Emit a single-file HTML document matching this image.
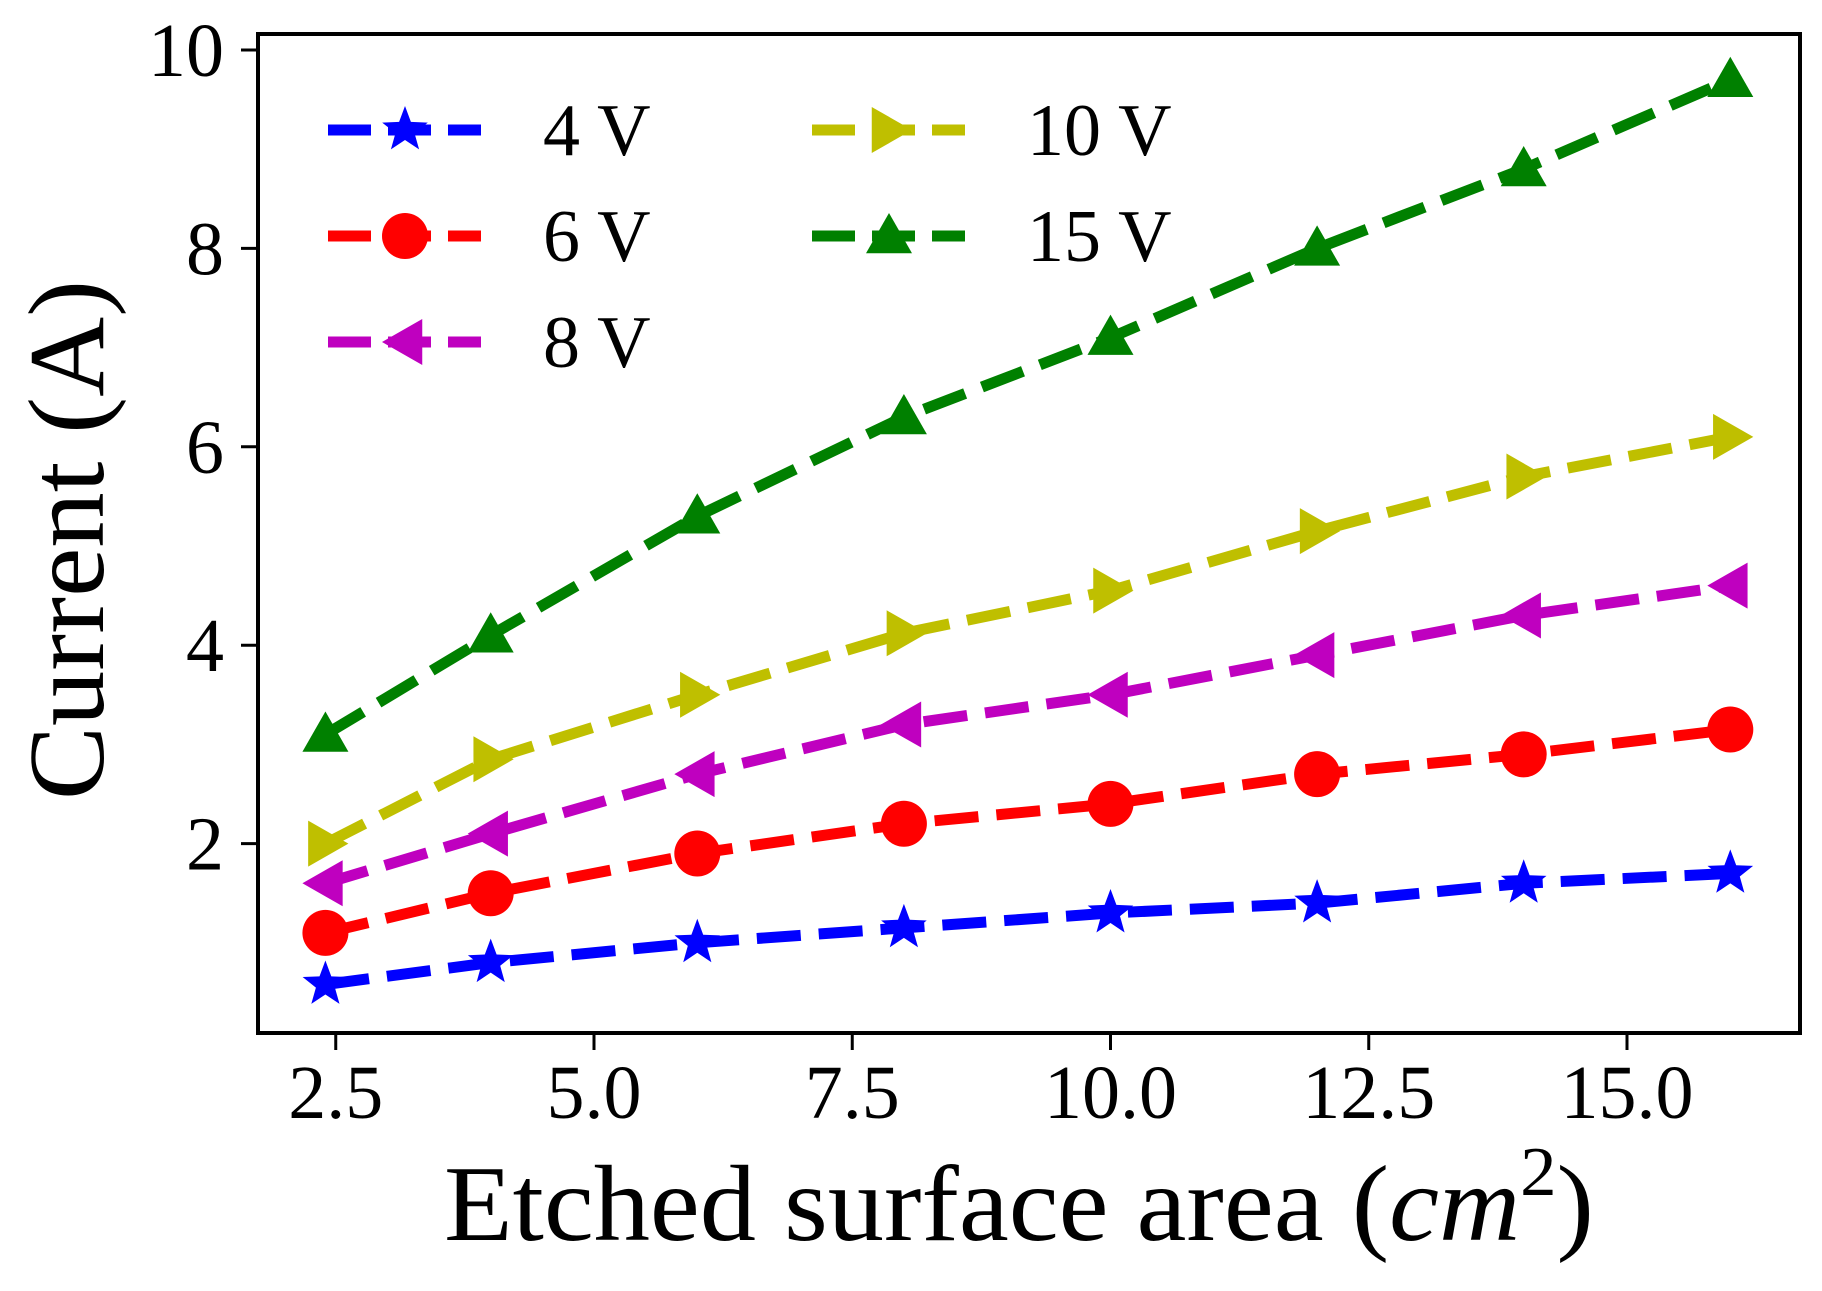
<!DOCTYPE html>
<html><head><meta charset="utf-8"><style>
html,body{margin:0;padding:0;background:#fff;}
svg{display:block;font-family:"Liberation Serif",serif;}
</style></head><body>
<svg id="chart" width="1822" height="1291" viewBox="0 0 1822 1291" xmlns="http://www.w3.org/2000/svg">
<rect x="0" y="0" width="1822" height="1291" fill="#fff"/>
<g id="series"></g>
<rect x="258" y="34" width="1542" height="999" fill="none" stroke="#000" stroke-width="4"/>
<g id="axes"></g>
<g id="legend"></g>
<text x="444" y="1240" font-size="108" textLength="1150" lengthAdjust="spacingAndGlyphs">Etched surface area (<tspan font-style="italic">cm</tspan><tspan font-size="70" dy="-45">2</tspan><tspan dy="45">)</tspan></text>
<text transform="translate(103,540) rotate(-90)" text-anchor="middle" font-size="108" font-style="normal" textLength="520" lengthAdjust="spacingAndGlyphs">Current (A)</text>
</svg>
<script>
const xValues = [2.4, 4, 6, 8, 10, 12, 14, 16];
const s4V = [0.58, 0.8, 1.0, 1.15, 1.3, 1.4, 1.6, 1.7];
const s6V = [1.1, 1.5, 1.9, 2.2, 2.4, 2.7, 2.9, 3.15];
const s8V = [1.6, 2.1, 2.7, 3.2, 3.5, 3.9, 4.3, 4.6];
const s10V = [2.0, 2.85, 3.5, 4.12, 4.55, 5.15, 5.7, 6.1];
const s15V = [3.1, 4.1, 5.3, 6.3, 7.1, 8.0, 8.8, 9.7];
const seriesLabels = ["4 V", "6 V", "8 V", "10 V", "15 V"];
const xTicks = [2.5, 5.0, 7.5, 10.0, 12.5, 15.0];
const xTickLabels = ["2.5", "5.0", "7.5", "10.0", "12.5", "15.0"];
const yTicks = [2, 4, 6, 8, 10];
const yTickLabels = ["2", "4", "6", "8", "10"];

const NS = "http://www.w3.org/2000/svg";
function xs(v){ return 1627 - (15 - v) * 103.3; }
function ys(v){ return 50 + (10 - v) * 99.2; }
function mk(tag, attrs, parent){ const e=document.createElementNS(NS,tag); for(const k in attrs) e.setAttribute(k,attrs[k]); parent.appendChild(e); return e; }

const styles = [
  {data:s4V, color:"#0000ff", marker:"star"},
  {data:s6V, color:"#ff0000", marker:"circle"},
  {data:s8V, color:"#bf00bf", marker:"left"},
  {data:s10V, color:"#bfbf00", marker:"right"},
  {data:s15V, color:"#008000", marker:"up"}
];

function marker(type, cx, cy, color, parent){
  const r = 23;
  let el;
  if(type==="circle"){ el = mk("circle",{cx:cx,cy:cy,r:r,fill:color},parent); }
  else if(type==="star"){
    let p=[]; for(let i=0;i<10;i++){ const a=-Math.PI/2+i*Math.PI/5; const rr=i%2?10:24; p.push((cx+rr*Math.cos(a)).toFixed(1)+","+(cy+rr*Math.sin(a)).toFixed(1)); }
    el = mk("polygon",{points:p.join(" "),fill:color},parent);
  } else {
    let pts;
    if(type==="up") pts=[[0,-r],[r,r*0.75],[-r,r*0.75]];
    else if(type==="left") pts=[[-r,0],[r*0.75,-r],[r*0.75,r]];
    else pts=[[r,0],[-r*0.75,-r],[-r*0.75,r]];
    el = mk("polygon",{points:pts.map(q=>(cx+q[0])+","+(cy+q[1])).join(" "),fill:color},parent);
  }
  return el;
}

const sg = document.getElementById("series");
styles.forEach((s, si) => {
  const g = mk("g",{},sg);
  
  
  const d = s.data.map((v,i)=>(i?"L":"M")+xs(xValues[i]).toFixed(1)+","+ys(v).toFixed(1)).join(" ");
  const path = mk("path",{d:d,fill:"none",stroke:s.color,"stroke-width":11,"stroke-dasharray":"44 18"},g);
  
  
  s.data.forEach((v,i)=>{
    const m = marker(s.marker, xs(xValues[i]), ys(v), s.color, g);
    
    
  });
});

const ax = document.getElementById("axes");
xTicks.forEach((t,i)=>{
  const x = xs(t);
  const l = mk("line",{x1:x,y1:1033,x2:x,y2:1050,stroke:"#000","stroke-width":3},ax);
  
  
  const tx = mk("text",{x:x,y:1118,"text-anchor":"middle","font-size":76},ax);
  tx.textContent = xTickLabels[i];
  
  
});
yTicks.forEach((t,i)=>{
  const y = ys(t);
  const l = mk("line",{x1:241,y1:y,x2:258,y2:y,stroke:"#000","stroke-width":3},ax);
  
  
  const tx = mk("text",{x:224,y:y+26,"text-anchor":"end","font-size":76},ax);
  tx.textContent = yTickLabels[i];
  
  
});

const lg = document.getElementById("legend");
const legPos = [[328,130],[328,236],[328,342],[812,130],[812,236]];
styles.forEach((s,i)=>{
  const [x0,y0] = legPos[i];
  const g = mk("g",{},lg);
  
  
  mk("line",{x1:x0,y1:y0,x2:x0+153,y2:y0,stroke:s.color,"stroke-width":11,"stroke-dasharray":"43 17"},g);
  marker(s.marker, x0+77, y0, s.color, g);
  const tx = mk("text",{x:x0+215,y:y0+25,"font-size":74},g);
  tx.textContent = seriesLabels[i];
});
</script>
</body></html>
